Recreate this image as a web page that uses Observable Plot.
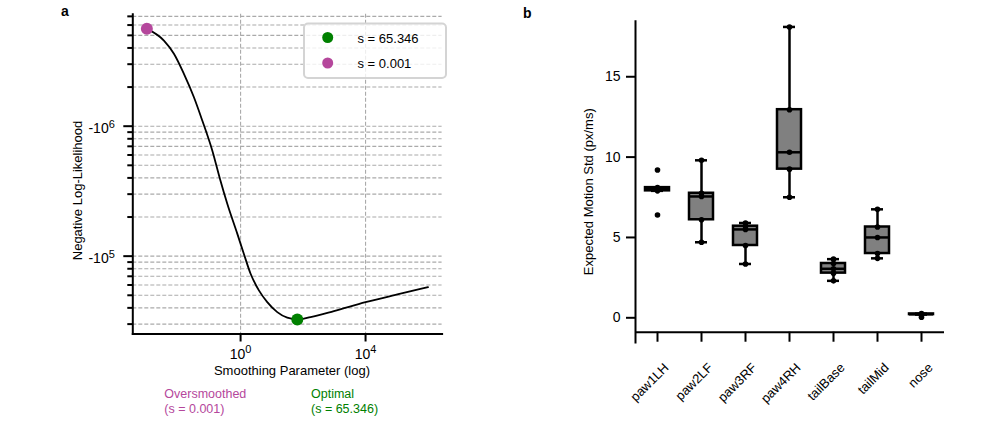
<!DOCTYPE html>
<html><head><meta charset="utf-8">
<script src="https://cdn.jsdelivr.net/npm/d3@7"></script>
<script src="https://cdn.jsdelivr.net/npm/@observablehq/plot@0.6"></script>
<style>
html,body{margin:0;padding:0;background:#fff;}
#fig{position:relative;width:997px;height:429px;font-family:"Liberation Sans",Arial,sans-serif;}
#fig svg{position:absolute;top:0;}
</style></head><body><div id="fig"></div>
<script>
// ---------- Panel a data ----------
const smoothing = [0.001, 0.00352, 0.00735, 0.01535, 0.0321, 0.0594, 0.124, 0.218, 0.375, 0.783, 1.276, 2.09, 3.855, 7.14, 14.93, 31.2, 65.346, 173.8, 968, 10000, 131800, 1000000];
const nll = [-5.61e6, -4.56e6, -3.61e6, -2.53e6, -1.67e6, -1.106e6, -6.5e5, -3.94e5, -2.53e5, -1.49e5, -1.04e5, -7.32e4, -5.45e4, -4.43e4, -3.71e4, -3.36e4, -3.26e4, -3.40e4, -3.78e4, -4.43e4, -5.14e4, -5.78e4];
const optimalS = 65.346, optimalNll = -3.26e4;
const overS = 0.001, overNll = -5.61e6;
const xTicksA = [1, 1e4];
const yMajorA = [-1e6, -1e5];
const yMinorA = [-7e6, -6e6, -5e6, -4e6, -3e6, -2e6, -9e5, -8e5, -7e5, -6e5, -5e5, -4e5, -3e5, -2e5, -9e4, -8e4, -7e4, -6e4, -5e4, -4e4, -3e4];

// ---------- Panel b data ----------
const parts = ["paw1LH", "paw2LF", "paw3RF", "paw4RH", "tailBase", "tailMid", "nose"];
const paw1LH = [6.4, 7.9, 8.0, 8.1, 9.2];
const paw2LF = [4.7, 6.1, 7.55, 7.75, 9.8];
const paw3RF = [3.35, 4.5, 5.5, 5.7, 5.9];
const paw4RH = [7.5, 9.25, 10.3, 12.95, 18.1];
const tailBase = [2.3, 2.78, 3.05, 3.38, 3.65];
const tailMid = [3.7, 4.0, 5.0, 5.65, 6.75];
const nose = [0.04, 0.2, 0.22, 0.24, 0.26];
const yTicksB = [0, 5, 10, 15];

const MAGENTA = "#b5479c", GREEN = "#008000";
const FONT = '"Liberation Sans", Arial, sans-serif';
const FS = 13, TFS = 14;
const baseStyle = {fontFamily: FONT, fontSize: FS + "px", background: "transparent", overflow: "visible", color: "#000"};

function styleTicks(svg) {
  svg.querySelectorAll('g[aria-label$="tick label"]').forEach(g => {
    g.setAttribute("font-size", TFS);
    g.style.fontSize = TFS + "px";
  });
  svg.querySelectorAll('g[aria-label$="tick label"] text').forEach(t => {
    t.style.fontSize = TFS + "px";
    const s = t.textContent, k = s.indexOf("^");
    if (k < 0) return;
    t.textContent = s.slice(0, k);
    const ts = document.createElementNS("http://www.w3.org/2000/svg", "tspan");
    ts.setAttribute("dy", "-0.5em");
    ts.style.fontSize = Math.round(TFS * 0.78) + "px";
    ts.textContent = s.slice(k + 1);
    t.appendChild(ts);
  });
}

// ---------- Panel a ----------
const curve = smoothing.map((s, i) => ({s, nll: nll[i]}));
const supFmt = d => (d < 0 ? "-" : "") + "10^" + Math.round(Math.log10(Math.abs(d)));
const grid = {stroke: "#aaaaaa", strokeWidth: 1.1, strokeDasharray: "4,2"};

const plotA = Plot.plot({
  width: 500, height: 429,
  marginLeft: 132.3, marginRight: 58.4, marginTop: 13.8, marginBottom: 95.5,
  style: baseStyle,
  x: {type: "log", domain: [10 ** -3.45, 10 ** 6.45]},
  y: {type: "symlog", domain: [-(10 ** 6.861), -(10 ** 4.401)], reverse: true},
  marks: [
    Plot.ruleY([...yMajorA, ...yMinorA], grid),
    Plot.ruleX(xTicksA, grid),
    Plot.frame({anchor: "left", strokeWidth: 2}),
    Plot.frame({anchor: "bottom", strokeWidth: 2}),
    Plot.axisX(xTicksA, {tickSize: 8, strokeWidth: 2, fill: "none", label: null}),
    Plot.axisX(xTicksA, {tickSize: 8, tickPadding: 7, stroke: "none", tickFormat: supFmt, label: null}),
    Plot.axisY(yMajorA, {tickSize: 9, strokeWidth: 2, fill: "none", label: null}),
    Plot.axisY(yMajorA, {tickSize: 9, tickPadding: 9, stroke: "none", tickFormat: supFmt, dy: 2.5, label: null}),
    Plot.axisY(yMinorA, {tickSize: 5, strokeWidth: 2, fill: "none", label: null}),
    Plot.line(curve, {x: "s", y: "nll", stroke: "black", strokeWidth: 1.8, curve: "monotone-x"}),
    Plot.dot([{s: optimalS, nll: optimalNll}], {x: "s", y: "nll", r: 6, fill: GREEN}),
    Plot.dot([{s: overS, nll: overNll}], {x: "s", y: "nll", r: 6, fill: MAGENTA})
  ]
});
plotA.style.left = "0px";
styleTicks(plotA);

// ---------- Panel b ----------
const groups = [paw1LH, paw2LF, paw3RF, paw4RH, tailBase, tailMid, nose];
const rowsB = parts.flatMap((p, i) => groups[i].map(v => ({part: p, v})));
const stats = parts.map((p, i) => {
  const v = groups[i].slice().sort(d3.ascending);
  const q1 = d3.quantileSorted(v, 0.25), med = d3.quantileSorted(v, 0.5), q3 = d3.quantileSorted(v, 0.75);
  const iqr = q3 - q1;
  return {part: p, q1, med, q3,
    lo: d3.min(v.filter(d => d >= q1 - 1.5 * iqr)),
    hi: d3.max(v.filter(d => d <= q3 + 1.5 * iqr))};
});
const yFloorB = -0.896, yTickEndB = -1.52;
const plotB = Plot.plot({
  width: 497, height: 429,
  marginLeft: 135, marginRight: 53, marginTop: 20.7, marginBottom: 87,
  style: baseStyle,
  x: {type: "band", domain: parts, paddingInner: 0.4545, paddingOuter: 0.2273, align: 0.5, axis: null},
  y: {domain: [-1.537, 18.457]},
  marks: [
    Plot.frame({anchor: "left", strokeWidth: 2}),
    Plot.ruleY([yFloorB], {strokeWidth: 2}),
    Plot.axisY(yTicksB, {tickSize: 9, strokeWidth: 2, fill: "none", label: null}),
    Plot.axisY(yTicksB, {tickSize: 9, tickPadding: 6, stroke: "none", label: null}),
    Plot.ruleX(parts, {x: d => d, y1: yFloorB, y2: yTickEndB, strokeWidth: 2}),
    Plot.text(parts, {x: d => d, y: () => yFloorB, dx: 12, dy: 36.3, rotate: -45, textAnchor: "end", lineAnchor: "bottom", fontSize: FS}),
    Plot.ruleX(stats, {x: "part", y1: "lo", y2: "q1", strokeWidth: 2.5}),
    Plot.ruleX(stats, {x: "part", y1: "q3", y2: "hi", strokeWidth: 2.5}),
    Plot.tickY(stats, {x: "part", y: "lo", insetLeft: 6, insetRight: 6, strokeWidth: 2.5}),
    Plot.tickY(stats, {x: "part", y: "hi", insetLeft: 6, insetRight: 6, strokeWidth: 2.5}),
    Plot.barY(stats, {x: "part", y1: "q1", y2: "q3", fill: "#808080", stroke: "black", strokeWidth: 2.5}),
    Plot.tickY(stats, {x: "part", y: "med", stroke: "black", strokeWidth: 2.5}),
    Plot.dot(rowsB, {x: "part", y: "v", r: 2.8, fill: "black"})
  ]
});
plotB.style.left = "500px";
styleTicks(plotB);

// ---------- Annotations (labels, legend) ----------
const overlay = `
<svg width="997" height="429" style="left:0;top:0;pointer-events:none" font-family='${FONT}' font-size="${FS}">
  <text x="61" y="15.5" font-weight="bold" font-size="14">a</text>
  <text x="523" y="18.3" font-weight="bold" font-size="14">b</text>
  <text transform="translate(82.3,190.5) rotate(-90)" text-anchor="middle">Negative Log-Likelihood</text>
  <text x="292" y="375" text-anchor="middle">Smoothing Parameter (log)</text>
  <text transform="translate(593.3,191.7) rotate(-90)" text-anchor="middle">Expected Motion Std (px/ms)</text>
  <rect x="304" y="23.5" width="142" height="54.5" rx="4" fill="white" fill-opacity="0.8" stroke="#d4d4d4" stroke-width="2"/>
  <circle cx="327.7" cy="37.5" r="5.5" fill="${GREEN}"/>
  <circle cx="327.7" cy="63" r="5.5" fill="${MAGENTA}"/>
  <text x="357.5" y="42.5">s = ${optimalS}</text>
  <text x="357.5" y="68">s = ${overS}</text>
  <text x="164.3" y="398" font-size="12.5" fill="${MAGENTA}">Oversmoothed</text>
  <text x="164.3" y="412.5" font-size="12.5" fill="${MAGENTA}">(s = ${overS})</text>
  <text x="311" y="398" font-size="12.5" fill="${GREEN}">Optimal</text>
  <text x="311" y="412.5" font-size="12.5" fill="${GREEN}">(s = ${optimalS})</text>
</svg>`;
const fig = document.getElementById("fig");
fig.appendChild(plotA);
fig.appendChild(plotB);
fig.insertAdjacentHTML("beforeend", overlay);
</script></body></html>
